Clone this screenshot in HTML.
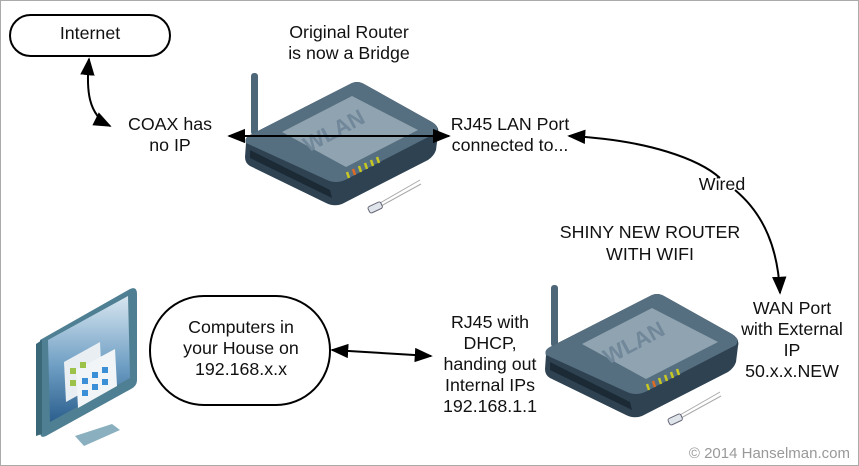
<!DOCTYPE html>
<html><head><meta charset="utf-8"><style>
html,body{margin:0;padding:0;background:#fff}
svg{display:block}
text{font-family:"Liberation Sans",sans-serif;font-size:17.8px;fill:#111}
</style></head><body>
<svg width="859" height="466" viewBox="0 0 859 466" xmlns="http://www.w3.org/2000/svg">
<defs>
<marker id="a" viewBox="0 0 10 10" refX="9" refY="5" markerWidth="9" markerHeight="9" orient="auto-start-reverse"><path d="M0,1 L10,5 L0,9 z" fill="#000"/></marker>
<linearGradient id="sc" x1="0" y1="0" x2="0" y2="1"><stop offset="0" stop-color="#d8e6f0"/><stop offset="0.55" stop-color="#6f9fc4"/><stop offset="1" stop-color="#2c5f8e"/></linearGradient>
<g id="router">
 <rect x="251" y="73" width="7" height="62" rx="3" fill="#4d6778"/>
 <path d="M246,143 Q244,138 250,135 L350,84 Q357,80 364,84 L432,122 Q440,127 438,134 L436,150 Q434,156 428,160 L342,204 Q334,207 326,203 L250,166 Q245,163 245,157 Z" fill="#2e4252"/>
 <path d="M246,143 Q244,138 250,135 L350,84 Q357,80 364,84 L432,122 Q440,127 436,133 L345,180 Q336,184 327,180 Z" fill="#566f80"/>
 <path d="M282,132 L352,96 L418,130 L346,167 Z" fill="#8fa3b0"/>
 <text x="300" y="140" font-size="22" font-weight="bold" style="fill:#71879a;font-size:22px" transform="rotate(-28 330 130)">WLAN</text>
 <path d="M250,150 L330,190 L332,198 L250,158 Z" fill="#1c2a35"/>
 <g stroke-width="2.5"><line x1="347" y1="172" x2="349" y2="178" stroke="#c8c820"/><line x1="353" y1="169" x2="355" y2="175" stroke="#e06a20"/><line x1="359" y1="166" x2="361" y2="172" stroke="#c8c820"/><line x1="365" y1="163" x2="367" y2="169" stroke="#c8c820"/><line x1="371" y1="160" x2="373" y2="166" stroke="#c8c820"/><line x1="377" y1="157" x2="379" y2="163" stroke="#c8c820"/></g>
 <line x1="380" y1="203" x2="420" y2="180" stroke="#aaa" stroke-width="1"/><line x1="381" y1="206" x2="421" y2="184" stroke="#aaa" stroke-width="1"/>
 <rect x="368" y="204" width="14" height="7" rx="2" fill="#dfe5ea" stroke="#667" stroke-width="1" transform="rotate(-25 375 207)"/>
</g>
</defs>
<rect x="0.5" y="0.5" width="858" height="465" fill="#fff" stroke="#aaa"/>

<use href="#router"/>
<use href="#router" transform="translate(300,212)"/>

<!-- monitor -->
<path d="M40,340 L130,289 Q137,286 137,294 L137,380 Q137,386 131,389 L46,436 Q40,439 40,432 Z" fill="#4f7f92"/>
<path d="M48,340 L128,296 L130,378 L50,422 Z" fill="url(#sc)"/>
<path d="M64,362 L100,342 L102,382 L66,402 Z" fill="#e8eef2"/>
<path d="M76,370 L115,349 L117,386 L78,408 Z" fill="#f1f5f8"/>
<g fill="#3a8fd6"><rect x="82" y="378" width="6" height="6"/><rect x="92" y="372" width="6" height="6"/><rect x="102" y="367" width="6" height="6"/><rect x="82" y="390" width="6" height="6"/><rect x="92" y="384" width="6" height="6"/><rect x="102" y="379" width="6" height="6"/></g>
<g fill="#9cc24a"><rect x="70" y="368" width="6" height="6"/><rect x="80" y="362" width="6" height="6"/><rect x="70" y="380" width="6" height="6"/></g>
<path d="M75,436 L112,424 L120,430 L84,446 Z" fill="#8ab0c0"/>
<path d="M36,344 L42,340 L42,434 L36,436 Z" fill="#3a6878"/>

<!-- Internet -->
<rect x="10" y="15" width="160" height="41" rx="20.5" fill="#fff" stroke="#000" stroke-width="2"/>
<text x="90" y="39" text-anchor="middle">Internet</text>
<path d="M89,59 C86,90 88,115 110,126" fill="none" stroke="#000" stroke-width="2" marker-start="url(#a)" marker-end="url(#a)"/>

<text x="170" y="130" text-anchor="middle">COAX has</text>
<text x="170" y="151" text-anchor="middle">no IP</text>
<text x="349" y="38" text-anchor="middle">Original Router</text>
<text x="349" y="59" text-anchor="middle">is now a Bridge</text>
<line x1="229" y1="136" x2="449" y2="136" stroke="#000" stroke-width="2" marker-start="url(#a)" marker-end="url(#a)"/>
<text x="510" y="130" text-anchor="middle">RJ45 LAN Port</text>
<text x="510" y="151" text-anchor="middle">connected to...</text>

<path d="M569,136 C650,140 700,160 720,178" fill="none" stroke="#000" stroke-width="2" marker-start="url(#a)"/>
<path d="M735,190 C765,215 778,250 780,293" fill="none" stroke="#000" stroke-width="2" marker-end="url(#a)"/>
<text x="722" y="190" text-anchor="middle">Wired</text>

<text x="650" y="238" text-anchor="middle">SHINY NEW ROUTER</text>
<text x="650" y="260" text-anchor="middle">WITH WIFI</text>

<text x="792" y="314" text-anchor="middle">WAN Port</text>
<text x="792" y="335" text-anchor="middle">with External</text>
<text x="792" y="356" text-anchor="middle">IP</text>
<text x="792" y="377" text-anchor="middle">50.x.x.NEW</text>

<rect x="150" y="296" width="180" height="109" rx="54" fill="#fff" stroke="#000" stroke-width="2"/>
<text x="241" y="333" text-anchor="middle">Computers in</text>
<text x="241" y="354" text-anchor="middle">your House on</text>
<text x="241" y="375" text-anchor="middle">192.168.x.x</text>
<line x1="332" y1="350" x2="431" y2="356" stroke="#000" stroke-width="2" marker-start="url(#a)" marker-end="url(#a)"/>

<text x="490" y="328" text-anchor="middle">RJ45 with</text>
<text x="490" y="349" text-anchor="middle">DHCP,</text>
<text x="490" y="370" text-anchor="middle">handing out</text>
<text x="490" y="391" text-anchor="middle">Internal IPs</text>
<text x="490" y="412" text-anchor="middle">192.168.1.1</text>

<text x="850" y="458" text-anchor="end" style="font-size:15px;fill:#999">© 2014 Hanselman.com</text>
</svg>
</body></html>
